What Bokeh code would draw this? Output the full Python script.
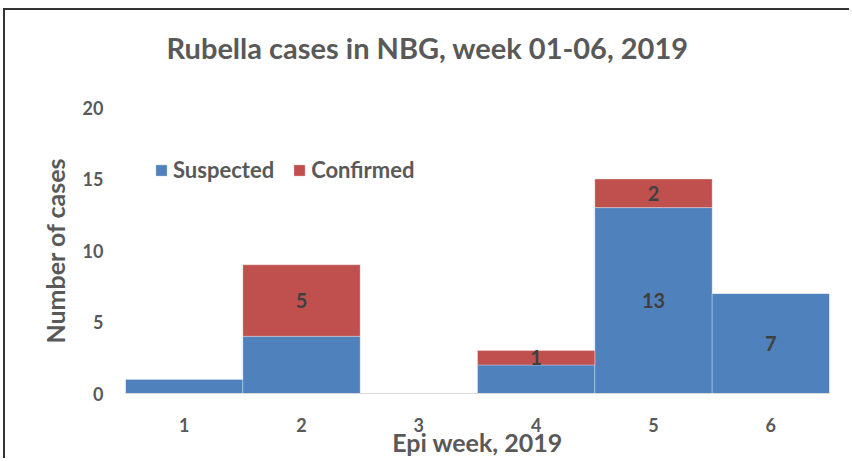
from bokeh.plotting import figure
from bokeh.models import ColumnDataSource, LabelSet, Range1d, FixedTicker
from bokeh.core.properties import value
from bokeh.embed import file_html
from bokeh.resources import INLINE

weeks = [1, 2, 3, 4, 5, 6]
week_labels = ["1", "2", "3", "4", "5", "6"]
suspected = [1, 4, 0, 2, 13, 7]
confirmed = [0, 5, 0, 1, 2, 0]
suspected_text = ["", "", "", "", "13", "7"]
confirmed_text = ["", "5", "", "1", "2", ""]
y_ticks = [0, 5, 10, 15, 20]
title_text = "Rubella cases in NBG, week 01-06, 2019"

BLUE = "#4f81bd"
RED = "#c0504d"
TXT = "#595959"
FONT = "Lato"

src = ColumnDataSource(dict(week=weeks, suspected=suspected, confirmed=confirmed))

p = figure(width=846, height=450, output_backend="svg", toolbar_location=None,
           x_range=Range1d(0.5, 6.5), y_range=Range1d(0, 20),
           min_border_left=120, min_border_right=22, min_border_top=97, min_border_bottom=67,
           title=title_text + "\n")
p.styles = {"margin-left": "3px", "margin-top": "8px",
            "border-left": "2px solid #333333", "border-top": "2px solid #333333"}

p.vbar_stack(["suspected", "confirmed"], x="week", width=1.0, color=[BLUE, RED],
             line_color="white", line_width=0.5, line_alpha=0.6, source=src,
             legend_label=["Suspected", "Confirmed"])

s_mid = [v / 2 for v in suspected]
c_mid = [s + c / 2 for s, c in zip(suspected, confirmed)]
lab_src = ColumnDataSource(dict(x=weeks + weeks, y=s_mid + c_mid, t=suspected_text + confirmed_text))
p.add_layout(LabelSet(x="x", y="y", text="t", source=lab_src, text_align="center",
                      text_baseline="middle", text_font=value(FONT), text_font_style="bold",
                      text_font_size="20px", text_color="#404040"))

p.title.align = "left"
p.title.offset = 41
p.title.standoff = 16
p.title.text_font = FONT
p.title.text_font_size = "29px"
p.title.text_font_style = "bold"
p.title.text_color = TXT

p.xgrid.visible = False
p.ygrid.visible = False
p.outline_line_color = None

p.xaxis.ticker = FixedTicker(ticks=weeks)
p.xaxis.major_label_overrides = {w: l for w, l in zip(weeks, week_labels)}
p.xaxis.axis_line_color = "#d9d9d9"
p.xaxis.major_tick_line_color = None
p.xaxis.minor_tick_line_color = None
p.xaxis.major_label_standoff = 18
p.xaxis.axis_label = "Epi week, 2019"
p.xaxis.axis_label_standoff = -8

p.yaxis.ticker = FixedTicker(ticks=y_ticks)
p.yaxis.axis_line_color = None
p.yaxis.major_tick_line_color = None
p.yaxis.minor_tick_line_color = None
p.yaxis.major_label_standoff = 16
p.yaxis.axis_label = "Number of cases"
p.yaxis.axis_label_standoff = 10

for ax in (p.xaxis, p.yaxis):
    ax.major_label_text_font = FONT
    ax.major_label_text_font_style = "bold"
    ax.major_label_text_font_size = "18px"
    ax.major_label_text_color = TXT
    ax.axis_label_text_font = FONT
    ax.axis_label_text_font_style = "bold"
    ax.axis_label_text_color = TXT
p.xaxis.axis_label_text_font_size = "25px"
p.yaxis.axis_label_text_font_size = "25px"

lg = p.legend[0]
lg.orientation = "horizontal"
lg.location = (29, 210)
lg.border_line_color = None
lg.background_fill_alpha = 0
lg.padding = 0
lg.margin = 0
lg.spacing = 18
lg.glyph_width = 14
lg.glyph_height = 14
lg.label_height = 26
lg.label_standoff = 5
lg.label_text_font = FONT
lg.label_text_font_style = "bold"
lg.label_text_font_size = "22px"
lg.label_text_color = TXT

open("out.html", "w").write(file_html(p, INLINE))
